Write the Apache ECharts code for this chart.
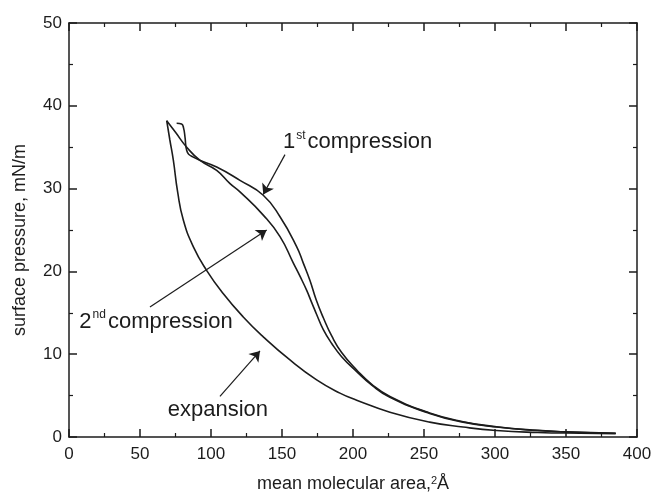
<!DOCTYPE html>
<html>
<head>
<meta charset="utf-8">
<script src="https://cdn.jsdelivr.net/npm/echarts@6/dist/echarts.min.js"></script>
<style>
  html, body { margin: 0; padding: 0; background: #fff; }
  #chart { width: 659px; height: 502px; }
</style>
</head>
<body>
<div id="chart"></div>
<script>
// isotherm curves: [mean molecular area, surface pressure]
const expansion = [
  [68.8, 38.2], [71, 35.9], [73.5, 33.4], [76.5, 29.6], [80.5, 26.2], [87.5, 23.0],
  [97, 20.1], [108.7, 17.3], [122.7, 14.5], [136.8, 12.1], [155.6, 9.3],
  [174.4, 6.9], [190.8, 5.3], [202.6, 4.45], [226, 3.0], [254, 1.8],
  [277.5, 1.2], [301, 0.78], [330, 0.55], [360, 0.45], [385, 0.4]
]
// curve starting at the expansion peak, ends as the inner branch
const compression2 = [
  [68.8, 38.2], [75, 36.8], [82.9, 35.0], [92.3, 33.4], [104, 32.2], [113.4, 30.6],
  [120.4, 29.6], [136.8, 26.8], [148.6, 24.2], [158, 21.0], [163, 19.3],
  [167.4, 17.7], [171, 16.2], [174.4, 14.8], [179, 13.0], [185, 11.3],
  [192, 9.7], [202.6, 7.9], [213, 6.3], [226, 4.8], [254, 2.85],
  [277.5, 1.8], [301, 1.2], [330, 0.78], [350, 0.6], [385, 0.45]
]
// curve with the small hook at the top, ends as the outer branch
const compression1 = [
  [75.8, 37.9], [79.3, 37.8], [80.7, 37.3], [81.7, 36.2], [82.9, 34.6], [87.5, 33.8],
  [104, 32.6], [120.4, 31.0], [136.8, 29.2], [148.6, 26.6], [160.3, 23.0],
  [165, 21.0], [169.7, 18.9], [174, 16.6], [179.1, 14.4], [185, 12.2],
  [192, 10.2], [202.6, 8.1], [213, 6.4], [226, 4.9], [254, 2.9],
  [277.5, 1.85], [301, 1.24], [330, 0.8], [350, 0.62], [385, 0.45]
]
// arrows: [tail, tip]
const arrowList = [
  [[152.1, 34.1], [136.8, 29.3]],
  [[57, 15.7], [139.2, 25.0]],
  [[106.3, 4.9], [134.5, 10.4]]
]
const xTicks = [0, 50, 100, 150, 200, 250, 300, 350, 400]
const yTicks = [0, 10, 20, 30, 40, 50]

const ink = '#1c1c1c'
const font = 'Liberation Sans, Arial, sans-serif'

const axisCommon = {
  axisLine: { onZero: false, lineStyle: { color: ink, width: 1.5 } },
  axisTick: { inside: true, length: 8, lineStyle: { color: ink, width: 1.5 } },
  minorTick: { show: true, splitNumber: 2, length: 4, lineStyle: { color: ink, width: 1.2 } },
  splitLine: { show: false }
}

const curve = (name, data) => ({
  name: name,
  type: 'line',
  data: data,
  symbol: 'none',
  smooth: 0.5,
  lineStyle: { color: ink, width: 1.6 },
  z: 3
})

const labelText = {
  b: { fontSize: 22, color: ink, fontFamily: font, lineHeight: 26 },
  s: { fontSize: 12, color: ink, fontFamily: font, verticalAlign: 'top', lineHeight: 26, padding: [0, 2, 0, 1] }
}

const options = {
  backgroundColor: '#fff',
  animation: false,
  grid: { left: 69, right: 22, top: 23, bottom: 65 },
  xAxis: [
    Object.assign({
      type: 'value',
      min: xTicks[0],
      max: xTicks[xTicks.length - 1],
      interval: 50,
      name: 'mean molecular area,{s|2}Å',
      nameLocation: 'middle',
      nameGap: 38,
      nameTextStyle: {
        fontSize: 18, color: ink, fontFamily: font,
        rich: { s: { fontSize: 11, verticalAlign: 'top', color: ink, fontFamily: font } }
      },
      axisLabel: { color: ink, fontSize: 17, fontFamily: font, margin: 9 }
    }, axisCommon),
    Object.assign({
      type: 'value', position: 'top', min: 0, max: 400, interval: 50,
      axisLabel: { show: false }
    }, axisCommon)
  ],
  yAxis: [
    Object.assign({
      type: 'value',
      min: yTicks[0],
      max: yTicks[yTicks.length - 1],
      interval: 10,
      axisLabel: { color: ink, fontSize: 17, fontFamily: font, margin: 7 }
    }, axisCommon),
    Object.assign({
      type: 'value', position: 'right', min: 0, max: 50, interval: 10,
      axisLabel: { show: false }
    }, axisCommon)
  ],
  graphic: [{
    type: 'text',
    x: 20,
    y: 240,
    rotation: Math.PI / 2,
    style: {
      text: 'surface pressure, mN/m',
      fill: ink,
      font: '18px ' + font,
      align: 'center',
      verticalAlign: 'middle'
    }
  }],
  series: [
    curve('expansion', expansion),
    curve('1st compression', compression1),
    curve('2nd compression', compression2),
    {
      name: 'arrows',
      type: 'line',
      data: [],
      markLine: {
        silent: true,
        symbol: ['none', 'arrow'],
        symbolSize: 10,
        label: { show: false },
        lineStyle: { color: ink, width: 1.2, type: 'solid' },
        data: arrowList.map(a => [{ coord: a[0] }, { coord: a[1] }])
      }
    },
    {
      name: 'labels',
      type: 'scatter',
      symbolSize: 0,
      silent: true,
      itemStyle: { opacity: 1 },
      label: { show: true, position: 'right', distance: 0, color: ink, opacity: 1, rich: labelText },
      data: [
        { value: [150.7, 35.6], label: { formatter: '{b|1}{s|st}{b|compression}' } },
        { value: [7.3, 13.9], label: { formatter: '{b|2}{s|nd}{b|compression}' } },
        { value: [69.5, 3.3], label: { formatter: '{b|expansion}' } }
      ]
    }
  ]
}

const chart = echarts.init(document.getElementById('chart'))
chart.setOption(options)
</script>
</body>
</html>
